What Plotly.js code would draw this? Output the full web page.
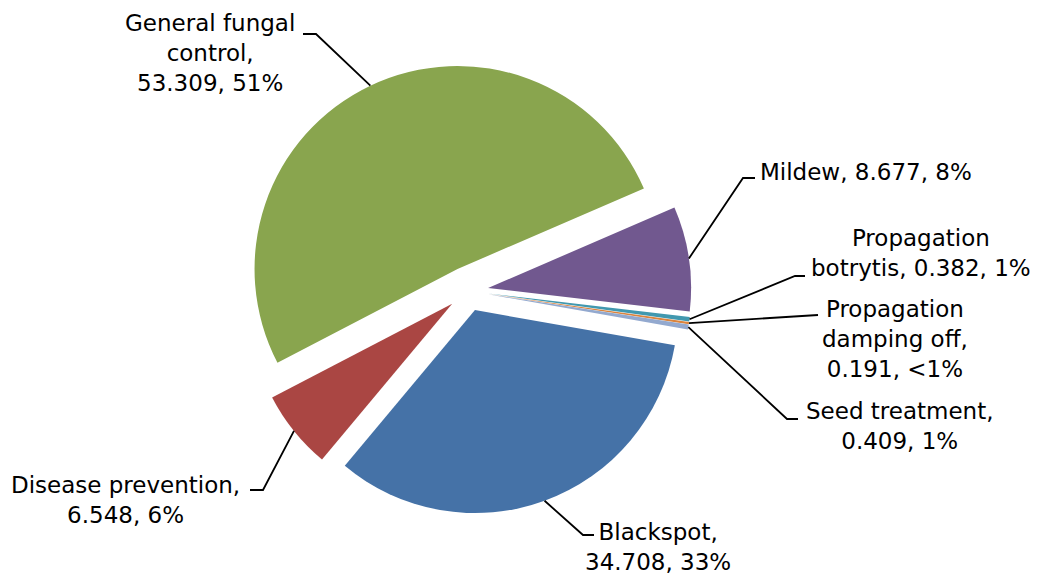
<!DOCTYPE html>
<html><head><meta charset="utf-8">
<script src="https://cdn.plot.ly/plotly-3.0.1.min.js"></script>
<style>html,body{margin:0;padding:0;background:#fff;} #chart{width:1040px;height:575px;}</style>
</head><body><div id="chart"></div>
<script>
// ---- data ----
const categories = ['Blackspot', 'Disease prevention', 'General fungal control', 'Mildew',
                    'Propagation botrytis', 'Propagation damping off', 'Seed treatment'];
const values = [34.708, 6.548, 53.309, 8.677, 0.382, 0.191, 0.409];
const percentLabels = ['33%', '6%', '51%', '8%', '1%', '<1%', '1%'];

// ---- presentation ----
const colors = ['#4572A7', '#AA4643', '#89A54E', '#71588F', '#4198AF', '#DB843D', '#93A9CF'];
const pulls = [0.1, 0.1, 0.12, 0.1, 0.1, 0.1, 0.1];
// how each category name wraps in its label
const wrappedNames = ['Blackspot,<br>', 'Disease prevention,<br>', 'General fungal<br>control,<br>',
                      'Mildew, ', 'Propagation<br>botrytis, ', 'Propagation<br>damping off,<br>',
                      'Seed treatment,<br>'];
// label centres and leader-line elbow/end points (pixels)
const labelPos = [[658, 547], [125, 500], [210, 53], [866, 172], [921, 253], [895, 339], [900, 426]];
const leaderElbow = [[583, 535], [263, 490], [316, 34], [743, 178], [795, 276], [818, 315], [787, 419]];
const leaderEnd = [[594, 535], [250, 490], [303, 34], [755, 178], [805, 276], [818, 315], [798, 419]];

const W = 1040, H = 575;
const px2x = x => x / W, px2y = y => 1 - y / H;
const esc = s => s.replace(/&/g, '&amp;').replace(/</g, '&lt;').replace(/>/g, '&gt;');

const maxPull = Math.max(...pulls);
const R = 203, CX = 468, CY = 291;
const half = R * (1 + maxPull);

const trace = {
  type: 'pie',
  labels: categories,
  values: values,
  sort: false,
  direction: 'clockwise',
  rotation: 100,
  pull: pulls,
  marker: {colors: colors, line: {width: 0}},
  textinfo: 'none',
  hoverinfo: 'label+value',
  showlegend: false,
  automargin: false,
  domain: {x: [(CX - half) / W, (CX + half) / W], y: [(H - CY - half) / H, (H - CY + half) / H]}
};

const annotations = categories.map((c, i) => ({
  xref: 'paper', yref: 'paper',
  x: px2x(labelPos[i][0]), y: px2y(labelPos[i][1]),
  xanchor: 'center', yanchor: 'middle', align: 'center',
  showarrow: false,
  text: wrappedNames[i] + values[i].toFixed(3) + ', ' + esc(percentLabels[i]),
  font: {family: 'DejaVu Sans, sans-serif', size: 23, color: '#000'}
}));

const layout = {
  width: W, height: H,
  margin: {l: 0, r: 0, t: 0, b: 0},
  paper_bgcolor: '#fff',
  showlegend: false,
  annotations: annotations
};

const gd = document.getElementById('chart');
Plotly.newPlot(gd, [trace], layout, {displayModeBar: false, staticPlot: true}).then(() => {
  const cd = gd.calcdata[0];
  const cd0 = cd[0];
  const shapes = cd.map((pt, k) => {
    const i = pt.i !== undefined ? pt.i : k;
    const f = 1 + pulls[i];
    const sx = cd0.cx + pt.pxmid[0] * f, sy = cd0.cy + pt.pxmid[1] * f;
    const e = leaderElbow[i], n = leaderEnd[i];
    return {
      type: 'path', xref: 'paper', yref: 'paper',
      path: `M ${px2x(sx)} ${px2y(sy)} L ${px2x(e[0])} ${px2y(e[1])} L ${px2x(n[0])} ${px2y(n[1])}`,
      line: {color: '#000', width: 1.8}
    };
  });
  return Plotly.relayout(gd, {shapes: shapes});
});
</script>
</body></html>
